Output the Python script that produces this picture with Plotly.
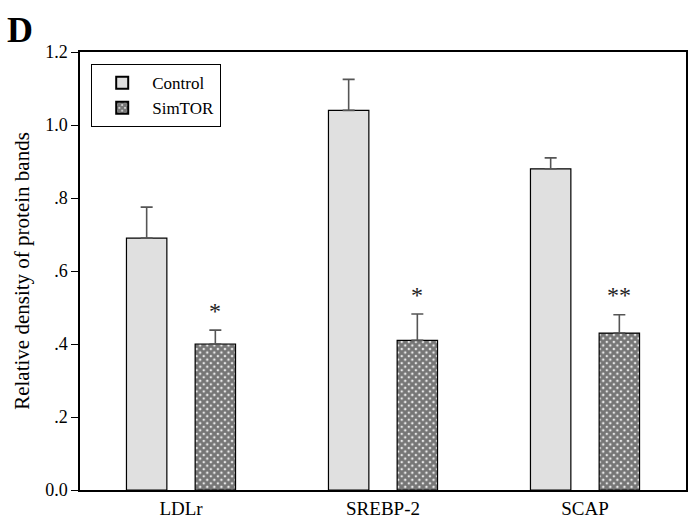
import plotly.graph_objects as go

categories = ["LDLr", "SREBP-2", "SCAP"]
control = [0.69, 1.04, 0.88]
control_err = [0.085, 0.085, 0.03]
simtor = [0.40, 0.41, 0.43]
simtor_err = [0.038, 0.072, 0.05]
sig_labels = ["*", "*", "**"]
sig_y = [0.49, 0.535, 0.535]
yticks = [0, 0.2, 0.4, 0.6, 0.8, 1.0, 1.2]
ytick_text = ["0.0", ".2", ".4", ".6", ".8", "1.0", "1.2"]

font_family = "Liberation Serif"
PW, PH = 606, 438  # plot area in px

fig = go.Figure()
fig.add_trace(go.Bar(
    x=categories, y=control, name="Control",
    width=0.2, offset=-0.27,
    marker=dict(color="#e0e0e0", line=dict(color="black", width=1.2)),
    error_y=dict(type="data", array=control_err, arrayminus=[0]*3, symmetric=False,
                 color="#555", thickness=1.6, width=6),
))
fig.add_trace(go.Bar(
    x=categories, y=simtor, name="SimTOR",
    width=0.2, offset=0.07,
    marker=dict(color="#d0d0d0", line=dict(color="black", width=1.2),
                pattern=dict(shape="x", size=5, solidity=0.82, fgcolor="#000000", bgcolor="#ececec")),
    error_y=dict(type="data", array=simtor_err, arrayminus=[0]*3, symmetric=False,
                 color="#555", thickness=1.6, width=6),
))

for i, (lab, yy) in enumerate(zip(sig_labels, sig_y)):
    fig.add_annotation(x=i + 0.17, y=yy, text=lab, showarrow=False, xref="x", yref="y",
                       font=dict(family=font_family, size=24, color="#222"))

fig.add_annotation(x=-75/PW, y=1 + 44/PH, xref="paper", yref="paper", text="<b>D</b>", showarrow=False,
                   xanchor="left", yanchor="top", font=dict(family=font_family, size=36, color="black"))

fig.update_layout(
    width=691, height=525,
    margin=dict(l=80, r=5, t=52, b=35),
    paper_bgcolor="white", plot_bgcolor="white",
    barmode="overlay",
    font=dict(family=font_family, size=18, color="black"),
    showlegend=True,
    legend=dict(x=11/PW, y=1 - 12/PH, xanchor="left", yanchor="top",
                bordercolor="black", borderwidth=1.2, bgcolor="white",
                font=dict(family=font_family, size=17), tracegroupgap=0,
                itemsizing="constant", itemwidth=50),
    xaxis=dict(range=[-0.5, 2.5], showline=True, linecolor="black", linewidth=1.5,
               mirror=True, ticks="", showgrid=False, tickfont=dict(size=19), automargin=False),
    yaxis=dict(range=[0, 1.2], tickvals=yticks, ticktext=ytick_text,
               showline=True, linecolor="black", linewidth=1.5, mirror=True,
               ticks="outside", ticklen=7, tickcolor="black", showgrid=False,
               zeroline=False, tickfont=dict(size=18), automargin=False,
               title=dict(text="Relative density of protein bands", font=dict(size=21), standoff=10)),
)

fig.write_html("out.html", config={"displayModeBar": False},
               post_script="document.body.style.margin='0';")
